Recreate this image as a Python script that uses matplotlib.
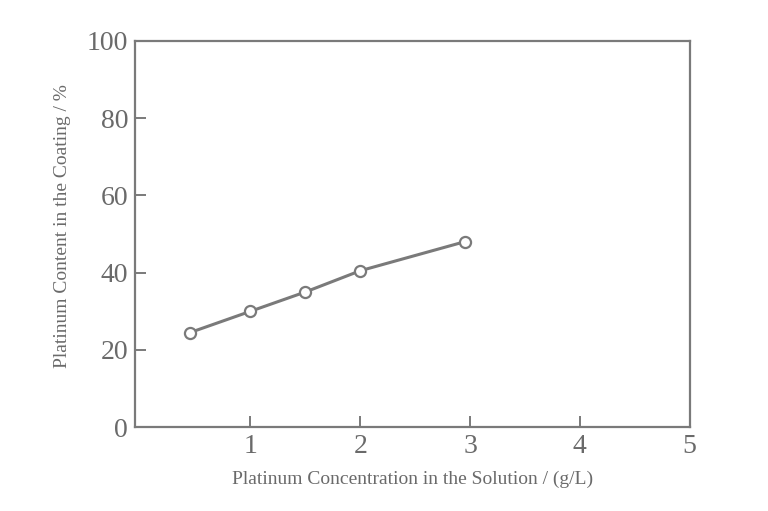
import matplotlib
matplotlib.use("Agg")
import matplotlib.pyplot as plt

# Pt concentration in bath (g/L) vs Pt content in deposit (%)
conc = [0.45, 1.0, 1.5, 2.0, 2.95]
content = [24.5, 30.0, 35.0, 40.5, 48.0]

x_ticks = [1, 2, 3, 4, 5]
y_ticks = [0, 20, 40, 60, 80, 100]

gray = '#7a7a7a'
text_gray = '#6a6a6a'

plt.rcParams['font.family'] = ['Liberation Serif', 'DejaVu Serif']

fig = plt.figure(figsize=(7.68, 5.11), dpi=100)
ax = fig.add_axes([0.176, 0.164, 0.722, 0.756])

ax.plot(conc, content, color=gray, linewidth=2.2, marker='o', markersize=8,
        markerfacecolor='white', markeredgecolor=gray, markeredgewidth=1.6)

ax.set_xlim(-0.05, 5)
ax.set_ylim(0, 100)
ax.set_xticks(x_ticks)
ax.set_yticks(y_ticks)
ax.tick_params(direction='in', length=8, width=1.4, color=gray,
               labelcolor=text_gray, labelsize=20, pad=5)

for s in ax.spines.values():
    s.set_color(gray)
    s.set_linewidth(1.6)

ax.set_xlabel('Platinum Concentration in the Solution / (g/L)', fontsize=14,
              color=text_gray, labelpad=8)
ax.set_ylabel('Platinum Content in the Coating / %', fontsize=14,
              color=text_gray)
ax.yaxis.set_label_coords(-0.115, 0.52)

fig.savefig('out.png', dpi=100)
